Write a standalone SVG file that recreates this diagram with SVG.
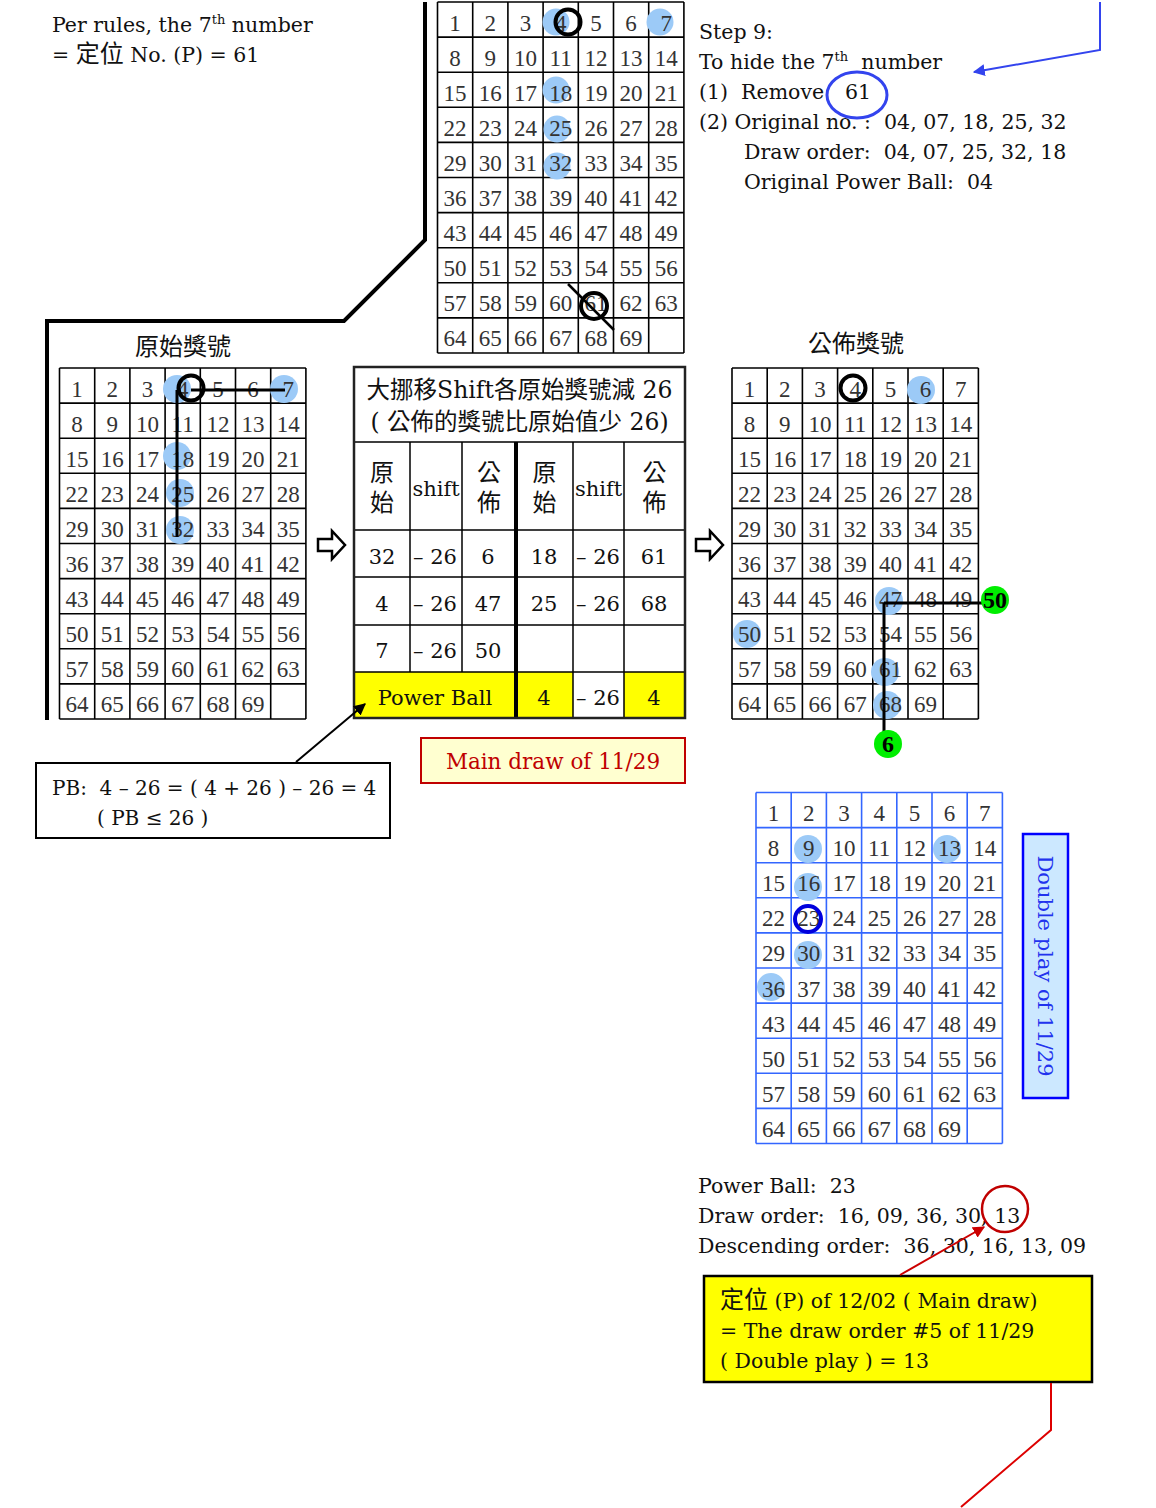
<svg xmlns="http://www.w3.org/2000/svg" width="1156" height="1508" viewBox="0 0 1156 1508" xml:space="preserve">
<defs>
<style>
.t{font-family:"DejaVu Serif","Noto Sans CJK TC",serif;fill:#111;font-size:20.5px;white-space:pre}
.k{font-size:24px}
.n{font-family:"Liberation Serif","Noto Sans CJK TC",serif;font-size:23px;fill:#333;text-anchor:middle}
.c{text-anchor:middle}
.d{font-size:21px}
.gl{fill:none;stroke-width:1.6}
.bl{fill:#9ccaf7}
.ring{fill:none;stroke:#000;stroke-width:4}
.thick{fill:none;stroke:#000;stroke-width:4}
.g{font-family:"Liberation Serif",serif;font-size:24px;font-weight:bold;fill:#000;text-anchor:middle}
</style>
<path id="gridpath" d="M0,0V351M35.2,0V351M70.4,0V351M105.6,0V351M140.8,0V351M176,0V351M211.2,0V351M246.4,0V351M0,0H246.4M0,35.1H246.4M0,70.2H246.4M0,105.3H246.4M0,140.4H246.4M0,175.5H246.4M0,210.6H246.4M0,245.7H246.4M0,280.8H246.4M0,315.9H246.4M0,351H246.4"/>
<marker id="ahk" viewBox="0 0 10 10" refX="9" refY="5" markerWidth="6" markerHeight="6" orient="auto"><path d="M0,0L10,5L0,10z" fill="#000"/></marker>
<marker id="ahb" viewBox="0 0 10 10" refX="9" refY="5" markerWidth="6" markerHeight="6" orient="auto"><path d="M0,0L10,5L0,10z" fill="#3344ee"/></marker>
<marker id="ahr" viewBox="0 0 10 10" refX="9" refY="5" markerWidth="6" markerHeight="6" orient="auto"><path d="M0,0L10,5L0,10z" fill="#cc0000"/></marker>
</defs>
<rect width="1156" height="1508" fill="#fff"/>

<g id="note-rules">
<text class="t" x="52" y="32">Per rules, the 7<tspan style="font-size:13px" dy="-8">th</tspan><tspan dy="8"> number</tspan></text>
<text class="t" x="52" y="62">= <tspan class="k">定位</tspan> No. (P) = 61</text>
</g>

<g id="grid-top" transform="translate(437.5,2)">
<use href="#gridpath" class="gl" stroke="#000"/>
<circle class="bl" cx="118.5" cy="20" r="13.5"/>
<circle class="bl" cx="222.5" cy="20" r="13.5"/>
<circle class="bl" cx="118.5" cy="88" r="13.5"/>
<circle class="bl" cx="119.5" cy="127" r="13.5"/>
<circle class="bl" cx="119.5" cy="164" r="13.5"/>
<text class="n" y="28.5"><tspan x="17.6">1</tspan><tspan x="52.8">2</tspan><tspan x="88">3</tspan><tspan x="123.2">4</tspan><tspan x="158.4">5</tspan><tspan x="193.6">6</tspan><tspan x="228.8">7</tspan></text>
<text class="n" y="63.6"><tspan x="17.6">8</tspan><tspan x="52.8">9</tspan><tspan x="88">10</tspan><tspan x="123.2">11</tspan><tspan x="158.4">12</tspan><tspan x="193.6">13</tspan><tspan x="228.8">14</tspan></text>
<text class="n" y="98.7"><tspan x="17.6">15</tspan><tspan x="52.8">16</tspan><tspan x="88">17</tspan><tspan x="123.2">18</tspan><tspan x="158.4">19</tspan><tspan x="193.6">20</tspan><tspan x="228.8">21</tspan></text>
<text class="n" y="133.8"><tspan x="17.6">22</tspan><tspan x="52.8">23</tspan><tspan x="88">24</tspan><tspan x="123.2">25</tspan><tspan x="158.4">26</tspan><tspan x="193.6">27</tspan><tspan x="228.8">28</tspan></text>
<text class="n" y="168.9"><tspan x="17.6">29</tspan><tspan x="52.8">30</tspan><tspan x="88">31</tspan><tspan x="123.2">32</tspan><tspan x="158.4">33</tspan><tspan x="193.6">34</tspan><tspan x="228.8">35</tspan></text>
<text class="n" y="204"><tspan x="17.6">36</tspan><tspan x="52.8">37</tspan><tspan x="88">38</tspan><tspan x="123.2">39</tspan><tspan x="158.4">40</tspan><tspan x="193.6">41</tspan><tspan x="228.8">42</tspan></text>
<text class="n" y="239.1"><tspan x="17.6">43</tspan><tspan x="52.8">44</tspan><tspan x="88">45</tspan><tspan x="123.2">46</tspan><tspan x="158.4">47</tspan><tspan x="193.6">48</tspan><tspan x="228.8">49</tspan></text>
<text class="n" y="274.2"><tspan x="17.6">50</tspan><tspan x="52.8">51</tspan><tspan x="88">52</tspan><tspan x="123.2">53</tspan><tspan x="158.4">54</tspan><tspan x="193.6">55</tspan><tspan x="228.8">56</tspan></text>
<text class="n" y="309.3"><tspan x="17.6">57</tspan><tspan x="52.8">58</tspan><tspan x="88">59</tspan><tspan x="123.2">60</tspan><tspan x="158.4">61</tspan><tspan x="193.6">62</tspan><tspan x="228.8">63</tspan></text>
<text class="n" y="344.4"><tspan x="17.6">64</tspan><tspan x="52.8">65</tspan><tspan x="88">66</tspan><tspan x="123.2">67</tspan><tspan x="158.4">68</tspan><tspan x="193.6">69</tspan></text>
<circle class="ring" cx="130.5" cy="20" r="12.5"/>
<circle class="ring" cx="156.5" cy="304" r="13"/>
<line x1="130.5" y1="282" x2="176.5" y2="328" stroke="#000" stroke-width="2.5"/>
</g>

<g id="note-step9">
<text class="t" x="699" y="39">Step 9:</text>
<text class="t" x="699" y="69">To hide the 7<tspan style="font-size:13px" dy="-8">th</tspan><tspan dy="8">  number</tspan></text>
<text class="t" x="699" y="99">(1)  Remove<tspan x="845">61</tspan></text>
<text class="t" x="699" y="129">(2) Original no. :  04, 07, 18, 25, 32</text>
<text class="t" x="744" y="159">Draw order:  04, 07, 25, 32, 18</text>
<text class="t" x="744" y="189">Original Power Ball:  04</text>
<ellipse cx="857" cy="95" rx="30" ry="23" fill="none" stroke="#3344ee" stroke-width="3"/>
</g>

<g id="title-left"><text class="t c k" x="183" y="355">原始獎號</text></g>

<g id="grid-left" transform="translate(59.5,368)">
<use href="#gridpath" class="gl" stroke="#000"/>
<circle class="bl" cx="117.5" cy="21" r="14"/>
<circle class="bl" cx="224.5" cy="21" r="14"/>
<circle class="bl" cx="117.5" cy="88" r="14"/>
<circle class="bl" cx="120.5" cy="125" r="14"/>
<circle class="bl" cx="120.5" cy="162" r="14"/>
<text class="n" y="28.5"><tspan x="17.6">1</tspan><tspan x="52.8">2</tspan><tspan x="88">3</tspan><tspan x="123.2">4</tspan><tspan x="158.4">5</tspan><tspan x="193.6">6</tspan><tspan x="228.8">7</tspan></text>
<text class="n" y="63.6"><tspan x="17.6">8</tspan><tspan x="52.8">9</tspan><tspan x="88">10</tspan><tspan x="123.2">11</tspan><tspan x="158.4">12</tspan><tspan x="193.6">13</tspan><tspan x="228.8">14</tspan></text>
<text class="n" y="98.7"><tspan x="17.6">15</tspan><tspan x="52.8">16</tspan><tspan x="88">17</tspan><tspan x="123.2">18</tspan><tspan x="158.4">19</tspan><tspan x="193.6">20</tspan><tspan x="228.8">21</tspan></text>
<text class="n" y="133.8"><tspan x="17.6">22</tspan><tspan x="52.8">23</tspan><tspan x="88">24</tspan><tspan x="123.2">25</tspan><tspan x="158.4">26</tspan><tspan x="193.6">27</tspan><tspan x="228.8">28</tspan></text>
<text class="n" y="168.9"><tspan x="17.6">29</tspan><tspan x="52.8">30</tspan><tspan x="88">31</tspan><tspan x="123.2">32</tspan><tspan x="158.4">33</tspan><tspan x="193.6">34</tspan><tspan x="228.8">35</tspan></text>
<text class="n" y="204"><tspan x="17.6">36</tspan><tspan x="52.8">37</tspan><tspan x="88">38</tspan><tspan x="123.2">39</tspan><tspan x="158.4">40</tspan><tspan x="193.6">41</tspan><tspan x="228.8">42</tspan></text>
<text class="n" y="239.1"><tspan x="17.6">43</tspan><tspan x="52.8">44</tspan><tspan x="88">45</tspan><tspan x="123.2">46</tspan><tspan x="158.4">47</tspan><tspan x="193.6">48</tspan><tspan x="228.8">49</tspan></text>
<text class="n" y="274.2"><tspan x="17.6">50</tspan><tspan x="52.8">51</tspan><tspan x="88">52</tspan><tspan x="123.2">53</tspan><tspan x="158.4">54</tspan><tspan x="193.6">55</tspan><tspan x="228.8">56</tspan></text>
<text class="n" y="309.3"><tspan x="17.6">57</tspan><tspan x="52.8">58</tspan><tspan x="88">59</tspan><tspan x="123.2">60</tspan><tspan x="158.4">61</tspan><tspan x="193.6">62</tspan><tspan x="228.8">63</tspan></text>
<text class="n" y="344.4"><tspan x="17.6">64</tspan><tspan x="52.8">65</tspan><tspan x="88">66</tspan><tspan x="123.2">67</tspan><tspan x="158.4">68</tspan><tspan x="193.6">69</tspan></text>
<path d="M131.5,22H225.5M117.5,22V169" stroke="#000" stroke-width="3" fill="none"/>
<circle class="ring" cx="131.5" cy="20" r="12.5"/>
</g>

<g id="title-right"><text class="t c k" x="856" y="352">公佈獎號</text></g>

<g id="grid-right" transform="translate(732,368)">
<use href="#gridpath" class="gl" stroke="#000"/>
<circle class="bl" cx="189" cy="22" r="14"/>
<circle class="bl" cx="157" cy="233" r="14"/>
<circle class="bl" cx="15" cy="266" r="14"/>
<circle class="bl" cx="153" cy="304" r="14"/>
<circle class="bl" cx="155" cy="337" r="14"/>
<text class="n" y="28.5"><tspan x="17.6">1</tspan><tspan x="52.8">2</tspan><tspan x="88">3</tspan><tspan x="123.2">4</tspan><tspan x="158.4">5</tspan><tspan x="193.6">6</tspan><tspan x="228.8">7</tspan></text>
<text class="n" y="63.6"><tspan x="17.6">8</tspan><tspan x="52.8">9</tspan><tspan x="88">10</tspan><tspan x="123.2">11</tspan><tspan x="158.4">12</tspan><tspan x="193.6">13</tspan><tspan x="228.8">14</tspan></text>
<text class="n" y="98.7"><tspan x="17.6">15</tspan><tspan x="52.8">16</tspan><tspan x="88">17</tspan><tspan x="123.2">18</tspan><tspan x="158.4">19</tspan><tspan x="193.6">20</tspan><tspan x="228.8">21</tspan></text>
<text class="n" y="133.8"><tspan x="17.6">22</tspan><tspan x="52.8">23</tspan><tspan x="88">24</tspan><tspan x="123.2">25</tspan><tspan x="158.4">26</tspan><tspan x="193.6">27</tspan><tspan x="228.8">28</tspan></text>
<text class="n" y="168.9"><tspan x="17.6">29</tspan><tspan x="52.8">30</tspan><tspan x="88">31</tspan><tspan x="123.2">32</tspan><tspan x="158.4">33</tspan><tspan x="193.6">34</tspan><tspan x="228.8">35</tspan></text>
<text class="n" y="204"><tspan x="17.6">36</tspan><tspan x="52.8">37</tspan><tspan x="88">38</tspan><tspan x="123.2">39</tspan><tspan x="158.4">40</tspan><tspan x="193.6">41</tspan><tspan x="228.8">42</tspan></text>
<text class="n" y="239.1"><tspan x="17.6">43</tspan><tspan x="52.8">44</tspan><tspan x="88">45</tspan><tspan x="123.2">46</tspan><tspan x="158.4">47</tspan><tspan x="193.6">48</tspan><tspan x="228.8">49</tspan></text>
<text class="n" y="274.2"><tspan x="17.6">50</tspan><tspan x="52.8">51</tspan><tspan x="88">52</tspan><tspan x="123.2">53</tspan><tspan x="158.4">54</tspan><tspan x="193.6">55</tspan><tspan x="228.8">56</tspan></text>
<text class="n" y="309.3"><tspan x="17.6">57</tspan><tspan x="52.8">58</tspan><tspan x="88">59</tspan><tspan x="123.2">60</tspan><tspan x="158.4">61</tspan><tspan x="193.6">62</tspan><tspan x="228.8">63</tspan></text>
<text class="n" y="344.4"><tspan x="17.6">64</tspan><tspan x="52.8">65</tspan><tspan x="88">66</tspan><tspan x="123.2">67</tspan><tspan x="158.4">68</tspan><tspan x="193.6">69</tspan></text>
<circle class="ring" cx="121" cy="20" r="12.5"/>
<path d="M152,235H263M152,235V376" stroke="#000" stroke-width="3" fill="none"/>
<circle cx="263" cy="232" r="14" fill="#00ee00"/>
<text class="g" x="263" y="240">50</text>
<circle cx="156" cy="376" r="14" fill="#00ee00"/>
<text class="g" x="156" y="384">6</text>
</g>

<g id="shift-arrows">
<path d="M318,539H332V531L345,545L332,559V551H318Z" fill="#fff" stroke="#000" stroke-width="2.5"/>
<path d="M696,539H710V531L723,545L710,559V551H696Z" fill="#fff" stroke="#000" stroke-width="2.5"/>
</g>

<g id="shift-table">
<rect x="354" y="672" width="162" height="46" fill="#ffff00"/>
<rect x="516" y="672" width="57" height="46" fill="#ffff00"/>
<rect x="624" y="672" width="61" height="46" fill="#ffff00"/>
<path d="M354,442H685M354,530H685M354,577H685M354,625H685M354,672H685M410,442V672M462,442V672M573,442V718M624,442V718" stroke="#000" stroke-width="1.5" fill="none"/>
<line x1="516" y1="442" x2="516" y2="718" stroke="#000" stroke-width="4"/>
<rect x="354" y="367" width="331" height="351" fill="none" stroke="#222" stroke-width="2.5"/>
<text class="t c" x="519.5" y="398" style="font-size:23.5px">大挪移Shift各原始獎號減 26</text>
<text class="t c" x="519.5" y="430" style="font-size:23.5px">( 公佈的獎號比原始值少 26)</text>
<text class="t c k" x="382" y="481">原</text>
<text class="t c k" x="382" y="511">始</text>
<text class="t c d" x="436" y="496">shift</text>
<text class="t c k" x="489" y="481">公</text>
<text class="t c k" x="489" y="511">佈</text>
<text class="t c k" x="544.5" y="481">原</text>
<text class="t c k" x="544.5" y="511">始</text>
<text class="t c d" x="598.5" y="496">shift</text>
<text class="t c k" x="654.5" y="481">公</text>
<text class="t c k" x="654.5" y="511">佈</text>
<text class="t c d" x="382" y="564">32</text>
<text class="t d" x="413" y="564">– 26</text>
<text class="t c d" x="488" y="564">6</text>
<text class="t c d" x="544" y="564">18</text>
<text class="t d" x="576" y="564">– 26</text>
<text class="t c d" x="654" y="564">61</text>
<text class="t c d" x="382" y="611">4</text>
<text class="t d" x="413" y="611">– 26</text>
<text class="t c d" x="488" y="611">47</text>
<text class="t c d" x="544" y="611">25</text>
<text class="t d" x="576" y="611">– 26</text>
<text class="t c d" x="654" y="611">68</text>
<text class="t c d" x="382" y="658">7</text>
<text class="t d" x="413" y="658">– 26</text>
<text class="t c d" x="488" y="658">50</text>
<text class="t c d" x="435" y="705">Power Ball</text>
<text class="t c d" x="544" y="705">4</text>
<text class="t d" x="576" y="705">– 26</text>
<text class="t c d" x="654" y="705">4</text>
</g>

<g id="main-draw-label">
<rect x="421" y="738" width="264" height="45" fill="#ffffd0" stroke="#c00000" stroke-width="2"/>
<text class="t c" x="553" y="769" style="fill:#c00000;font-size:21.5px">Main draw of 11/29</text>
</g>

<g id="pb-note">
<rect x="36" y="763" width="354" height="75" fill="#fff" stroke="#000" stroke-width="2"/>
<text class="t" x="52" y="795" style="font-size:20px">PB:  4 – 26 = ( 4 + 26 ) – 26 = 4</text>
<text class="t" x="97" y="825" style="font-size:20px">( PB ≤ 26 )</text>
</g>

<g id="grid-double" transform="translate(756,792.5)">
<use href="#gridpath" class="gl" stroke="#3366ff"/>
<circle class="bl" cx="52" cy="56.5" r="14"/>
<circle class="bl" cx="191" cy="56.5" r="14"/>
<circle class="bl" cx="52" cy="94.5" r="14"/>
<circle class="bl" cx="52" cy="162.5" r="14"/>
<circle class="bl" cx="15" cy="194.5" r="14"/>
<text class="n" y="28.5"><tspan x="17.6">1</tspan><tspan x="52.8">2</tspan><tspan x="88">3</tspan><tspan x="123.2">4</tspan><tspan x="158.4">5</tspan><tspan x="193.6">6</tspan><tspan x="228.8">7</tspan></text>
<text class="n" y="63.6"><tspan x="17.6">8</tspan><tspan x="52.8">9</tspan><tspan x="88">10</tspan><tspan x="123.2">11</tspan><tspan x="158.4">12</tspan><tspan x="193.6">13</tspan><tspan x="228.8">14</tspan></text>
<text class="n" y="98.7"><tspan x="17.6">15</tspan><tspan x="52.8">16</tspan><tspan x="88">17</tspan><tspan x="123.2">18</tspan><tspan x="158.4">19</tspan><tspan x="193.6">20</tspan><tspan x="228.8">21</tspan></text>
<text class="n" y="133.8"><tspan x="17.6">22</tspan><tspan x="52.8">23</tspan><tspan x="88">24</tspan><tspan x="123.2">25</tspan><tspan x="158.4">26</tspan><tspan x="193.6">27</tspan><tspan x="228.8">28</tspan></text>
<text class="n" y="168.9"><tspan x="17.6">29</tspan><tspan x="52.8">30</tspan><tspan x="88">31</tspan><tspan x="123.2">32</tspan><tspan x="158.4">33</tspan><tspan x="193.6">34</tspan><tspan x="228.8">35</tspan></text>
<text class="n" y="204"><tspan x="17.6">36</tspan><tspan x="52.8">37</tspan><tspan x="88">38</tspan><tspan x="123.2">39</tspan><tspan x="158.4">40</tspan><tspan x="193.6">41</tspan><tspan x="228.8">42</tspan></text>
<text class="n" y="239.1"><tspan x="17.6">43</tspan><tspan x="52.8">44</tspan><tspan x="88">45</tspan><tspan x="123.2">46</tspan><tspan x="158.4">47</tspan><tspan x="193.6">48</tspan><tspan x="228.8">49</tspan></text>
<text class="n" y="274.2"><tspan x="17.6">50</tspan><tspan x="52.8">51</tspan><tspan x="88">52</tspan><tspan x="123.2">53</tspan><tspan x="158.4">54</tspan><tspan x="193.6">55</tspan><tspan x="228.8">56</tspan></text>
<text class="n" y="309.3"><tspan x="17.6">57</tspan><tspan x="52.8">58</tspan><tspan x="88">59</tspan><tspan x="123.2">60</tspan><tspan x="158.4">61</tspan><tspan x="193.6">62</tspan><tspan x="228.8">63</tspan></text>
<text class="n" y="344.4"><tspan x="17.6">64</tspan><tspan x="52.8">65</tspan><tspan x="88">66</tspan><tspan x="123.2">67</tspan><tspan x="158.4">68</tspan><tspan x="193.6">69</tspan></text>
<circle cx="52" cy="126.5" r="13" fill="none" stroke="#0000dd" stroke-width="4"/>
</g>

<g id="double-play-label">
<rect x="1023" y="834" width="45" height="264" fill="#cce8ff" stroke="#0000ff" stroke-width="2.5"/>
<text class="t c" transform="translate(1038,966) rotate(90)" style="fill:#2233ee;font-size:21px">Double play of 11/29</text>
</g>

<g id="note-double">
<text class="t" x="698" y="1193">Power Ball:  23</text>
<text class="t" x="698" y="1223">Draw order:  16, 09, 36, 30, 13</text>
<text class="t" x="698" y="1253">Descending order:  36, 30, 16, 13, 09</text>
<circle cx="1005" cy="1209" r="23" fill="none" stroke="#c00000" stroke-width="2.5"/>
</g>

<g id="note-position">
<rect x="704" y="1276" width="388" height="106" fill="#ffff00" stroke="#000" stroke-width="2.5"/>
<text class="t" x="720" y="1308"><tspan class="k">定位</tspan> (P) of 12/02 ( Main draw)</text>
<text class="t" x="720" y="1338">= The draw order #5 of 11/29</text>
<text class="t" x="720" y="1368">( Double play ) = 13</text>
</g>

<g id="connectors" fill="none">
<path class="thick" d="M425,2V240L344,321H47V720"/>
<path d="M1100,2V50L974,72" stroke="#3344ee" stroke-width="2" marker-end="url(#ahb)"/>
<line x1="296" y1="762" x2="365" y2="704" stroke="#000" stroke-width="2" marker-end="url(#ahk)"/>
<line x1="900" y1="1275" x2="984" y2="1227" stroke="#cc0000" stroke-width="2" marker-end="url(#ahr)"/>
<path d="M1051,1383V1430L961,1507" stroke="#dd0000" stroke-width="2"/>
</g>
</svg>
